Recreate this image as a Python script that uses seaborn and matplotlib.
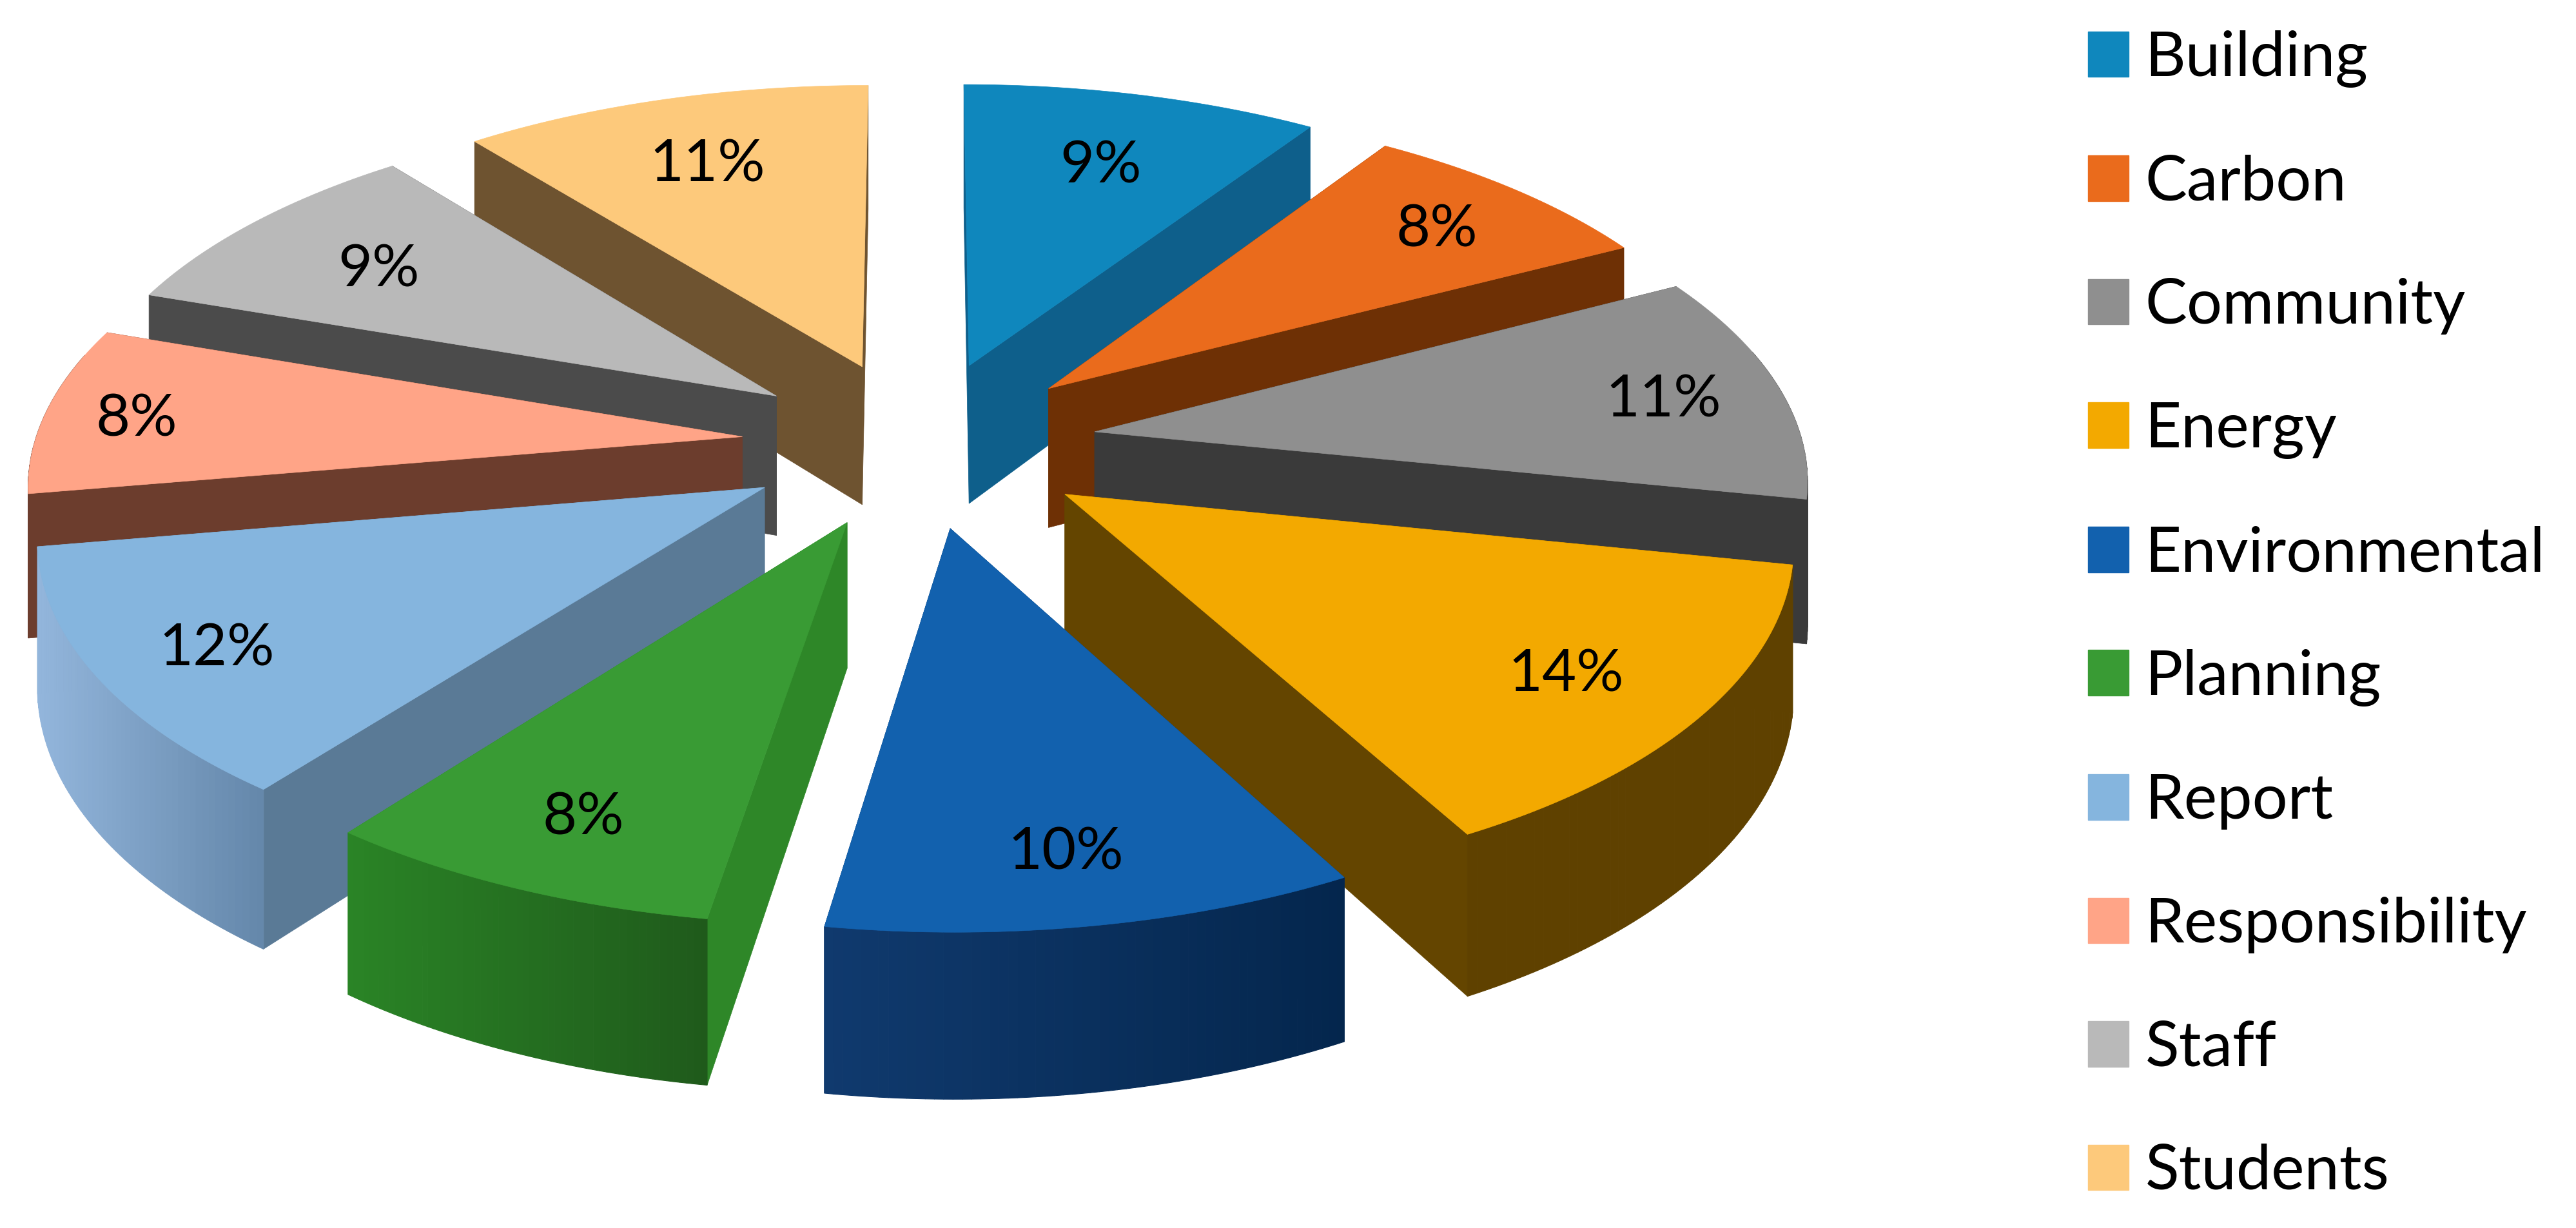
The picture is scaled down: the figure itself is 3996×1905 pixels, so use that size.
import numpy as np
import matplotlib
matplotlib.use("Agg")
import matplotlib.pyplot as plt
import seaborn as sns
from matplotlib.patches import Polygon, Patch

categories = ['Building', 'Carbon', 'Community', 'Energy', 'Environmental',
              'Planning', 'Report', 'Responsibility', 'Staff', 'Students']
# the labels show them rounded
shares = [9.3, 8.0, 10.9, 13.9, 10.4, 7.9, 11.9, 8.0, 9.0, 10.7]

top_colors = ['#0f87bd', '#ea6b1c', '#8f8f8f', '#f3a900', '#1261ae',
              '#399b34', '#85b5de', '#ffa487', '#b9b9b9', '#fdc97b']
cut_colors = ['#0e5f8b', '#6e3005', '#3a3a3a', '#644500', '#0c3c70',
              '#2e8728', '#5a7a96', '#6c3d2d', '#4b4b4b', '#6e5330']
wall_left = ['#0e5f8b', '#6e3005', '#3a3a3a', '#5f4100', '#103a6e',
             '#2a8426', '#93b6dc', '#6c3d2d', '#4b4b4b', '#6e5330']
wall_right = ['#0e5f8b', '#6e3005', '#3a3a3a', '#5f4100', '#04264d',
              '#1f5a1b', '#6487aa', '#6c3d2d', '#4b4b4b', '#6e5330']
# wall colours run along the arc, so "left" and "right" are as seen on screen
label_radius = [0.74, 0.82, 0.83, 0.80, 0.82, 0.81, 0.83, 0.87, 0.75, 0.76]

# layout of the fake 3d pie, in output pixels
CX, CY = 1426, 688
R = 1098
EXPLODE = 276
YS = 0.47
K = 0.00011
DEPTH = 220
LABEL_DY = 10

sns.set_theme(style='white')
plt.rcParams['font.family'] = ['Lato', 'DejaVu Sans']


def project(x, y, z=0.0):
    w = 1 + K * y
    return CX + x / w, CY - YS * y / w + z * DEPTH / w


fig = plt.figure(figsize=(39.96, 19.05), dpi=100)
ax = fig.add_axes([0, 0, 1, 1])
ax.set_xlim(0, 3996)
ax.set_ylim(1905, 0)
ax.axis('off')

bounds = np.cumsum([0] + shares) / sum(shares) * 2 * np.pi
wedges = []
for i, name in enumerate(categories):
    t0, t1 = bounds[i], bounds[i + 1]
    mid = (t0 + t1) / 2
    ox, oy = EXPLODE * np.sin(mid), EXPLODE * np.cos(mid)
    wedges.append((oy + 0.6 * R * np.cos(mid), i, t0, t1, mid, ox, oy))

# back to front
for _, i, t0, t1, mid, ox, oy in sorted(wedges, reverse=True):
    ts = np.linspace(t0, t1, 60)
    arc_x = ox + R * np.sin(ts)
    arc_y = oy + R * np.cos(ts)

    faces = []
    for t in (t0, t1):
        ex, ey = ox + R * np.sin(t), oy + R * np.cos(t)
        pts = [project(ox, oy), project(ex, ey), project(ex, ey, 1), project(ox, oy, 1)]
        faces.append(((oy + ey) / 2, pts))
    faces.sort(key=lambda f: -f[0])
    for _, pts in faces:
        ax.add_patch(Polygon(pts, closed=True, fc=cut_colors[i], ec=cut_colors[i], lw=0.5))

    # outer wall, thin strips for the shading
    c0 = np.array(matplotlib.colors.to_rgb(wall_left[i]))
    c1 = np.array(matplotlib.colors.to_rgb(wall_right[i]))
    sx = project(arc_x, arc_y)[0]
    for j in range(len(ts) - 1):
        if np.cos((ts[j] + ts[j + 1]) / 2) > 0.25:
            continue
        f = (0.5 * (sx[j] + sx[j + 1]) - sx.min()) / (sx.max() - sx.min())
        col = c0 + (c1 - c0) * f
        pts = [project(arc_x[j], arc_y[j]), project(arc_x[j + 1], arc_y[j + 1]),
               project(arc_x[j + 1], arc_y[j + 1], 1), project(arc_x[j], arc_y[j], 1)]
        ax.add_patch(Polygon(pts, closed=True, fc=col, ec=col, lw=0.8))

    top_x, top_y = project(np.r_[ox, arc_x], np.r_[oy, arc_y])
    ax.add_patch(Polygon(np.c_[top_x, top_y], closed=True, fc=top_colors[i],
                         ec=top_colors[i], lw=0.5))

    r = label_radius[i] * R
    lx, ly = project(ox + r * np.sin(mid), oy + r * np.cos(mid))
    ax.text(lx, ly + LABEL_DY, f'{shares[i]:.0f}%', ha='center', va='center', fontsize=66, color='black')

handles = [Patch(fc=c, ec=c) for c in top_colors]
ax.legend(handles, categories, loc='upper left', bbox_to_anchor=(3239 / 3996, 1 - 47 / 1905),
          frameon=False, fontsize=70, handlelength=0.65, handleheight=0.74,
          labelspacing=1.065, handletextpad=0.26, borderpad=0, borderaxespad=0,
          labelcolor='black')

fig.savefig('out.png', dpi=100, facecolor='white')
